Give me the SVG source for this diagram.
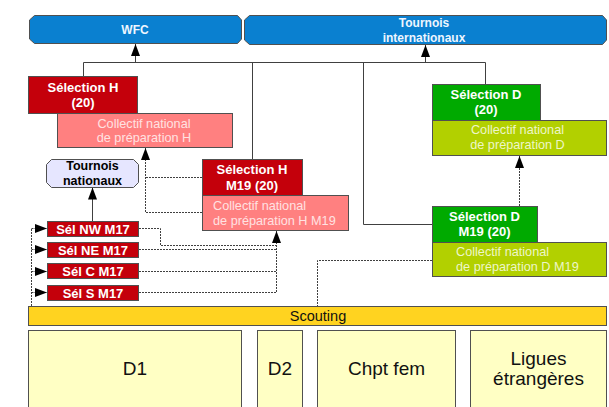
<svg xmlns="http://www.w3.org/2000/svg" width="609" height="407" viewBox="0 0 609 407">
<style>
text{font-family:"Liberation Sans",Arial,sans-serif}
.bx{stroke:#505050;stroke-width:1}
.blue{fill:#0a80d0}
.red{fill:#c4000b}
.pink{fill:#ff8080}
.green{fill:#00aa00}
.lime{fill:#b2d000}
.yel{fill:#ffd320}
.cream{fill:#ffffc4}
.lav{fill:#e6e6ff}
.tb{font-weight:bold;font-size:12px;fill:#eef6ff;text-anchor:middle}
.tw{font-weight:bold;font-size:13px;fill:#ffffff;text-anchor:middle}
.tk{font-weight:bold;font-size:12.5px;fill:#000;text-anchor:middle}
.tp{font-size:12.7px;fill:#ffe2e2}
.tl{font-size:12.7px;fill:#eef6c8}
.mid{text-anchor:middle}
.tbig{font-size:19px;fill:#111;text-anchor:middle}
.sol{fill:none;stroke:#404040;stroke-width:1}
.dash{fill:none;stroke:#404040;stroke-width:1;stroke-dasharray:2,1}
</style>
<defs>
<marker id="ah" markerUnits="userSpaceOnUse" viewBox="0 0 12 9" refX="12" refY="4.5" markerWidth="12" markerHeight="9" orient="auto">
<path d="M0,0 L12,4.5 L0,9 z" fill="#000"/>
</marker>
</defs>

<g id="connectors">
<path class="sol" d="M83.5,76 V62.5 H485.5 V84"/>
<path class="sol" d="M135.5,62.5 V44" marker-end="url(#ah)"/>
<path class="sol" d="M425.5,62.5 V45" marker-end="url(#ah)"/>
<path class="sol" d="M252.5,62.5 V159"/>
<path class="sol" d="M363.5,62.5 V224.5 H432"/>
<path class="sol" d="M92.5,221 V187.5" marker-end="url(#ah)"/>
<path class="dash" d="M202,177.5 H145.5"/>
<path class="dash" d="M202,212.5 H145.5 V148" marker-end="url(#ah)"/>
<path class="dash" d="M139,228.5 H160.5 V245.5 H276.5"/>
<path class="dash" d="M139,249.5 H276.5"/>
<path class="dash" d="M139,271.5 H276.5"/>
<path class="dash" d="M139,292.5 H276.5 V231" marker-end="url(#ah)"/>
<path class="dash" d="M31.5,306 V228.5"/>
<path class="dash" d="M31.5,228.5 H47" marker-end="url(#ah)"/>
<path class="dash" d="M31.5,249.5 H47" marker-end="url(#ah)"/>
<path class="dash" d="M31.5,271.5 H47" marker-end="url(#ah)"/>
<path class="dash" d="M31.5,292.5 H47" marker-end="url(#ah)"/>
<path class="dash" d="M432,260.5 H317.5 V306"/>
<path class="dash" d="M519.5,206 V156" marker-end="url(#ah)"/>
</g>

<g id="wfc">
<polygon class="bx blue" points="34.5,15.5 237.5,15.5 241.5,20 241.5,39 237.5,43.5 34.5,43.5 29.5,39 29.5,20"/>
<text class="tb" x="135" y="33.5">WFC</text>
</g>
<g id="tournois-internationaux">
<polygon class="bx blue" points="249.5,15.5 602.5,15.5 606.5,20 606.5,40 602.5,44.5 249.5,44.5 244.5,40 244.5,20"/>
<text class="tb" x="424" y="27">Tournois</text>
<text class="tb" x="424" y="42">internationaux</text>
</g>

<g id="selection-h">
<rect class="bx red" x="28.5" y="76.5" width="109" height="37"/>
<text class="tw" x="83" y="91.5">Sélection H</text>
<text class="tw" x="83" y="106.5">(20)</text>
</g>
<g id="collectif-h">
<rect class="bx pink" x="57.5" y="113.5" width="175" height="34"/>
<text class="tp mid" x="144" y="127.5">Collectif national</text>
<text class="tp mid" x="144" y="141.5">de préparation H</text>
</g>

<g id="selection-d">
<rect class="bx green" x="432.5" y="84.5" width="108" height="36"/>
<text class="tw" x="486" y="98.5">Sélection D</text>
<text class="tw" x="486" y="113.5">(20)</text>
</g>
<g id="collectif-d">
<rect class="bx lime" x="432.5" y="120.5" width="174" height="35"/>
<text class="tl mid" x="517.5" y="133.5">Collectif national</text>
<text class="tl mid" x="517.5" y="148.5">de préparation D</text>
</g>

<g id="tournois-nationaux">
<polygon class="bx lav" points="51.5,159.5 133.5,159.5 138.5,164.5 138.5,182.5 133.5,187.5 51.5,187.5 46.5,182.5 46.5,164.5"/>
<text class="tk" x="92.5" y="169.5">Tournois</text>
<text class="tk" x="92.5" y="185">nationaux</text>
</g>

<g id="selection-h-m19">
<rect class="bx red" x="202.5" y="159.5" width="100" height="36"/>
<text class="tw" x="252" y="173.5">Sélection H</text>
<text class="tw" x="252" y="189.5">M19 (20)</text>
</g>
<g id="collectif-h-m19">
<rect class="bx pink" x="202.5" y="195.5" width="146" height="35"/>
<text class="tp" x="213" y="209.5">Collectif national</text>
<text class="tp" x="213" y="224.5">de préparation H M19</text>
</g>

<g id="selection-d-m19">
<rect class="bx green" x="432.5" y="206.5" width="105" height="36"/>
<text class="tw" x="484.5" y="220.5">Sélection D</text>
<text class="tw" x="484.5" y="235.5">M19 (20)</text>
</g>
<g id="collectif-d-m19">
<rect class="bx lime" x="432.5" y="242.5" width="174" height="34"/>
<text class="tl" x="456" y="255.5">Collectif national</text>
<text class="tl" x="456" y="270.5">de préparation D M19</text>
</g>

<g id="sel-nw-m17">
<rect class="bx red" x="47.5" y="221.5" width="91" height="15"/>
<text class="tw" x="93" y="233.5">Sél NW M17</text>
</g>
<g id="sel-ne-m17">
<rect class="bx red" x="47.5" y="242.5" width="91" height="15"/>
<text class="tw" x="93" y="254.5">Sél NE M17</text>
</g>
<g id="sel-c-m17">
<rect class="bx red" x="47.5" y="263.5" width="91" height="15"/>
<text class="tw" x="93" y="275.5">Sél C M17</text>
</g>
<g id="sel-s-m17">
<rect class="bx red" x="47.5" y="285.5" width="91" height="15"/>
<text class="tw" x="93" y="297.5">Sél S M17</text>
</g>

<g id="scouting">
<rect class="bx yel" x="28.5" y="306.5" width="578" height="19"/>
<text x="318" y="321" style="font-size:14.5px;fill:#111;text-anchor:middle">Scouting</text>
</g>

<g id="d1">
<rect class="bx cream" x="28.5" y="330.5" width="213" height="80"/>
<text class="tbig" x="135" y="375">D1</text>
</g>
<g id="d2">
<rect class="bx cream" x="257.5" y="330.5" width="45" height="80"/>
<text class="tbig" x="280" y="375">D2</text>
</g>
<g id="chpt-fem">
<rect class="bx cream" x="317.5" y="330.5" width="138" height="80"/>
<text class="tbig" x="386.5" y="375">Chpt fem</text>
</g>
<g id="ligues-etrangeres">
<rect class="bx cream" x="470.5" y="330.5" width="136" height="80"/>
<text class="tbig" x="538.5" y="365">Ligues</text>
<text class="tbig" x="538.5" y="385">étrangères</text>
</g>
</svg>
